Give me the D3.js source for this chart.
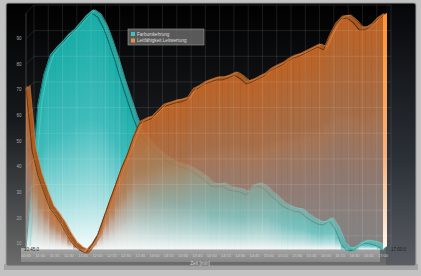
<!DOCTYPE html>
<html>
<head>
<meta charset="utf-8">
<script src="https://cdn.jsdelivr.net/npm/d3@7"></script>
<style>
  html, body { margin: 0; padding: 0; background: #c4c4c4; }
  svg { display: block; font-family: "Liberation Sans", Arial, sans-serif; }
</style>
</head>
<body>
<svg id="chart" width="421" height="276"></svg>
<script>
// series names (legend)
var seriesNames = ["Farbumkehrung", "Leitfähigkeit Leitwertung"];

// one sample every 6.25 min, starting 10:45
var sampleStep = 6.25;

// teal series
var tealValues = [8, 36.8, 64.1, 75.8, 82.8, 85.6, 87.9, 90.6, 92.6, 95.3,
  98, 100, 98.4, 94.1, 87.9, 80.9, 73.1, 66.1, 59.1, 53.2,
  50.5, 47.4, 45.4, 43.5, 41.9, 40.7, 40, 39.2, 38, 36.5,
  34.9, 32.6, 32.2, 32.6, 31, 30.6, 30.2, 29, 31.8, 32.6,
  31.4, 29, 27.1, 24.8, 23.6, 22.8, 22.4, 20.5, 18.9, 17.7,
  17.4, 18.9, 15.4, 9.6, 7.2, 7.6, 9.2, 10.3, 9.9, 9.2, 7.6];

// orange series
var orangeValues = [70.8, 46.6, 36.8, 30.2, 24.0, 20.9, 17.4, 13.1, 9.6, 7.6,
  6.4, 9.2, 13.1, 19.7, 26.3, 32.6, 39.2, 44.6, 51.3, 56.7,
  57.9, 58.7, 61, 63.4, 64.1, 64.9, 65.3, 66.1, 69.6, 70.8,
  72.3, 73.1, 73.9, 73.9, 74.7, 75.8, 74.3, 72.3, 73.1, 74.3,
  75.4, 77.4, 78.6, 79.7, 81.3, 82.5, 83.2, 84.4, 85.6, 86.7,
  85.6, 91, 95.3, 97.7, 98, 96.1, 93.4, 93.4, 94.9, 97.3, 98.8];

var yTicks = [10, 20, 30, 40, 50, 60, 70, 80, 90];
var timeLabels = ["10:45", "11:00", "11:15", "11:30", "11:45", "12:00", "12:15", "12:30",
  "12:45", "13:00", "13:15", "13:30", "13:45", "14:00", "14:15", "14:30", "14:45",
  "15:00", "15:15", "15:30", "15:45", "16:00", "16:15", "16:30", "16:45", "17:00"];

var svg = d3.select("#chart");
var defs = svg.append("defs");

var x = d3.scaleLinear().domain([0, 375]).range([26, 383]);
var y = d3.scaleLinear().domain([8, 100]).range([249, 13]);
var depth = { dx: 4, dy: -3 };

function grad(id, box, x1, y1, x2, y2, stops) {
    var g = defs.append("linearGradient").attr("id", id)
        .attr("gradientUnits", box ? "objectBoundingBox" : "userSpaceOnUse")
        .attr("x1", x1).attr("y1", y1).attr("x2", x2).attr("y2", y2);
    stops.forEach(function (s) {
        g.append("stop").attr("offset", s[0]).attr("stop-color", s[1]);
    });
}

grad("panelG", false, 0, 3, 0, 266, [[0, "#000"], [0.45, "#17191c"], [1, "#6c6c6c"]]);
grad("rightG", false, 0, 3, 0, 266, [[0, "#050608"], [0.6, "#2c3138"], [1, "#5a5e64"]]);
// per column gradients (top of each slice -> floor)
grad("tealG", true, 0, 0, 0, 1, [[0, "#18aca6"], [0.45, "#40bcbc"], [0.78, "#a6dfe0"], [1, "#f6fcfc"]]);
grad("orangeG", true, 0, 0, 0, 1, [[0, "#c46626"], [0.4, "#b6784e"], [0.7, "#c4a294"], [1, "#f0e8e4"]]);
grad("orangeA", true, 0, 0, 0, 1, [[0, "#f6f6f6"], [0.45, "#e2e2e2"], [0.72, "#969696"], [1, "#3c3c3c"]]);
grad("endG", false, 0, 13, 0, 249, [[0, "#ff9232"], [0.6, "#f6b27c"], [1, "#fff6ee"]]);
grad("floorG", false, 0, 248, 0, 263, [[0, "#a6a6a6"], [1, "#848484"]]);

// frame
svg.append("rect").attr("x", 0).attr("y", 0).attr("width", 421).attr("height", 276).attr("fill", "#c2c2c2");
svg.append("rect").attr("x", 4).attr("y", 264).attr("width", 414).attr("height", 6).attr("fill", "#8e8e8e").attr("opacity", 0.6);
svg.append("rect").attr("x", 6).attr("y", 3).attr("width", 410).attr("height", 263).attr("rx", 2)
    .attr("fill", "url(#panelG)").attr("stroke", "#a0a0a0").attr("stroke-width", 1);
svg.append("rect").attr("x", 386).attr("y", 4).attr("width", 29).attr("height", 261).attr("fill", "url(#rightG)");

// floor strip under the plot
svg.append("rect").attr("x", 21).attr("y", 248).attr("width", 359).attr("height", 14).attr("fill", "url(#floorG)");

var tData = tealValues.map(function (v, i) { return { t: i * sampleStep, v: v }; });
var oData = orangeValues.map(function (v, i) { return { t: i * sampleStep, v: v }; });

var area = d3.area().x(function (d) { return x(d.t); }).y0(y(8)).y1(function (d) { return y(d.v); });
var line = d3.line().x(function (d) { return x(d.t); }).y(function (d) { return y(d.v); });

function pairs(data) {
    return d3.range(data.length - 1).map(function (i) { return [data[i], data[i + 1]]; });
}

// opaque slices, each with its own top->floor gradient
function slices(parent, data, gradId) {
    parent.selectAll("path.slice").data(pairs(data)).join("path").attr("class", "slice")
        .attr("d", area)
        .attr("fill", "url(#" + gradId + ")")
        .attr("stroke", "url(#" + gradId + ")").attr("stroke-width", 0.8);
}

function drawSeries(data, bandColor, gradId, alphaId, lineColor, topColor) {
    var g = svg.append("g");
    // ribbon top surface
    g.append("path").attr("d", line(data)).attr("fill", "none")
        .attr("stroke", bandColor).attr("stroke-width", 4).attr("stroke-linejoin", "round")
        .attr("transform", "translate(" + depth.dx / 2 + "," + depth.dy / 2 + ")");
    var body = g.append("g");
    if (alphaId) {
        var m = defs.append("mask").attr("id", alphaId + "M").attr("maskUnits", "userSpaceOnUse")
            .attr("x", 0).attr("y", 0).attr("width", 421).attr("height", 276);
        slices(m, data, alphaId);
        body.attr("mask", "url(#" + alphaId + "M)");
    }
    slices(body, data, gradId);
    g.append("path").attr("d", line(data)).attr("fill", "none")
        .attr("stroke", lineColor).attr("stroke-width", 0.8);
    g.append("path").attr("d", line(data)).attr("fill", "none")
        .attr("stroke", topColor).attr("stroke-width", 0.6)
        .attr("transform", "translate(" + depth.dx + "," + depth.dy + ")");
}

// teal series (behind), orange series (front, fading with depth)
drawSeries(tData, "#26a6a0", "tealG", null, "#0c5e60", "#62d0c6");
drawSeries(oData, "#a8591f", "orangeG", "orangeA", "#5e2c0a", "#d98a4a");

// end face of the orange ribbon
var last = oData[oData.length - 1];
var ex = x(last.t), ey = y(last.v);
svg.append("path")
    .attr("d", "M" + ex + "," + ey + "L" + (ex + depth.dx) + "," + (ey + depth.dy) +
        "L" + (ex + depth.dx) + "," + (y(8) + depth.dy) + "L" + ex + "," + y(8) + "Z")
    .attr("fill", "url(#endG)");

// grid (back wall, drawn light over everything)
var grid = svg.append("g").attr("stroke", "#fff").attr("stroke-opacity", 0.15).attr("stroke-width", 0.7);
d3.range(0, 376, 15).forEach(function (t) {
    grid.append("line").attr("x1", x(t) + 8).attr("x2", x(t) + 8).attr("y1", 5).attr("y2", 249);
});
yTicks.concat([100]).forEach(function (v) {
    grid.append("line").attr("x1", 34).attr("x2", 391).attr("y1", y(v) - 8).attr("y2", y(v) - 8);
    grid.append("line").attr("x1", 26).attr("x2", 34).attr("y1", y(v)).attr("y2", y(v) - 8);
});
grid.append("line").attr("x1", 26).attr("x2", 26).attr("y1", 13).attr("y2", 249).attr("stroke-opacity", 0.3);

// y labels
svg.append("g").selectAll("text").data(yTicks).join("text")
    .attr("x", 19).attr("y", function (d) { return y(d) + 1.5; })
    .attr("text-anchor", "middle").attr("font-size", 4.5).attr("fill", "#a8a8a8")
    .text(function (d) { return d; });

// x labels
svg.append("g").selectAll("text").data(timeLabels).join("text")
    .attr("x", function (d, i) { return x(i * 15); }).attr("y", 257)
    .attr("text-anchor", "middle").attr("font-size", 4).attr("fill", "#d0d0d0")
    .text(function (d) { return d; });

svg.append("text").attr("x", 200).attr("y", 265).attr("text-anchor", "middle")
    .attr("font-size", 4.8).attr("fill", "#dcdcdc").text("Zeit [min]");
svg.append("text").attr("x", 24).attr("y", 251).attr("font-size", 4.5).attr("fill", "#2a2a2a").text("10:45:0");
svg.append("text").attr("x", 391).attr("y", 251).attr("font-size", 4.5).attr("fill", "#1e1e1e").text("17:00:0");

// legend
var lg = svg.append("g").attr("transform", "translate(128,29)");
lg.append("rect").attr("width", 76).attr("height", 16)
    .attr("fill", "#6e6e6e").attr("fill-opacity", 0.8).attr("stroke", "#9c9c9c").attr("stroke-width", 0.6);
var swatch = ["#3cc4bc", "#e8904a"];
seriesNames.forEach(function (n, i) {
    lg.append("rect").attr("x", 3).attr("y", 3 + i * 6.5).attr("width", 4).attr("height", 4).attr("fill", swatch[i]);
    lg.append("text").attr("x", 9).attr("y", 6.6 + i * 6.5).attr("font-size", 4.6).attr("fill", "#dedede").text(n);
});
</script>
</body>
</html>
